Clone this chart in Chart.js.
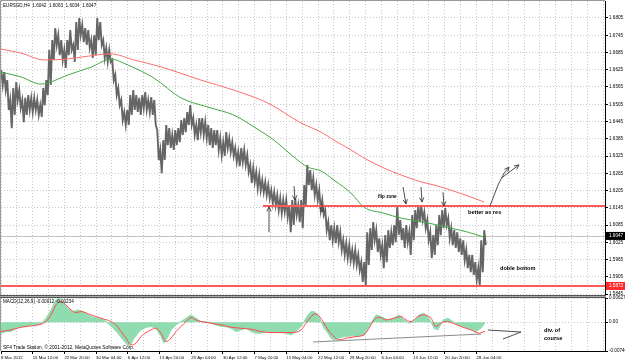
<!DOCTYPE html>
<html><head><meta charset="utf-8">
<script src="https://cdn.jsdelivr.net/npm/chart.js@4/dist/chart.umd.min.js"></script>
<style>
html,body{margin:0;padding:0;background:#fff;width:625px;height:361px;overflow:hidden}
#main{position:absolute;left:0;top:0}
#macd{position:absolute;left:0;top:294px}
</style></head><body>
<canvas id="main" width="625" height="296"></canvas>
<canvas id="macd" width="625" height="67"></canvas>
<script>
// ---------- DATA ----------
const symbolTitle = 'EURSGD,H4  1.6042  1.6063  1.6034  1.6047';
const macdTitle = 'MACD(12,26,9) -0.00012 -0.00234';
const copyright = 'SF4 Trade Station, \u00A9 2001-2012, MetaQuotes Software Corp.';
const xLabels = ['8 Mar 2012','15 Mar 12:00','22 Mar 20:00','30 Mar 04:00','6 Apr 12:00','13 Apr 20:00','23 Apr 04:00','30 Apr 12:00','7 May 20:00','15 May 04:00','22 May 12:00','29 May 20:00','6 Jun 04:00','13 Jun 12:00','20 Jun 20:00','28 Jun 04:00'];
const priceTicks = ['1.5845','1.5905','1.5965','1.6025','1.6085','1.6145','1.6205','1.6265','1.6325','1.6385','1.6445','1.6505','1.6565','1.6625','1.6685','1.6745','1.6805'];
const macdTicks = ['0.006279','0.00','-0.00746'];

// price range of each sample (every 3 bars)
const priceHigh = [1.6624,1.6617,1.6589,1.6520,1.6561,1.6582,1.6554,1.6520,1.6527,1.6537,
1.6527,1.6527,1.6520,1.6502,1.6561,1.6589,1.6694,1.6728,1.6770,1.6746,
1.6728,1.6694,1.6728,1.6763,1.6711,1.6791,1.6805,1.6781,1.6770,1.6763,
1.6728,1.6746,1.6805,1.6791,1.6728,1.6701,1.6694,1.6659,1.6607,1.6561,
1.6520,1.6478,1.6485,1.6537,1.6554,1.6537,1.6527,1.6537,1.6547,1.6520,
1.6530,1.6520,1.6415,1.6346,1.6380,1.6433,1.6422,1.6398,1.6415,1.6422,
1.6450,1.6457,1.6478,1.6502,1.6457,1.6433,1.6457,1.6457,1.6443,1.6433,
1.6422,1.6415,1.6415,1.6387,1.6373,1.6408,1.6387,1.6373,1.6353,1.6339,
1.6353,1.6346,1.6328,1.6294,1.6283,1.6269,1.6259,1.6241,1.6234,1.6224,
1.6206,1.6199,1.6189,1.6178,1.6172,1.6172,1.6154,1.6172,1.6178,1.6154,
1.6172,1.6224,1.6294,1.6276,1.6248,1.6224,1.6206,1.6172,1.6137,1.6095,
1.6085,1.6074,1.6085,1.6060,1.6032,1.6022,1.6015,1.5998,1.5998,1.5981,
1.5956,1.5956,1.6060,1.6074,1.6095,1.6067,1.6039,1.6015,1.6050,1.6067,
1.6060,1.6085,1.6154,1.6102,1.6074,1.6085,1.6060,1.6120,1.6137,1.6154,
1.6154,1.6130,1.6102,1.6060,1.6050,1.6085,1.6120,1.6137,1.6144,1.6109,
1.6074,1.6067,1.6060,1.6039,1.6032,1.5998,1.5981,1.5981,1.5956,1.5935,
1.6032,1.6067];
const priceLow = [1.6572,1.6554,1.6485,1.6422,1.6468,1.6520,1.6492,1.6443,1.6468,1.6485,
1.6478,1.6485,1.6468,1.6461,1.6502,1.6537,1.6572,1.6659,1.6711,1.6676,
1.6659,1.6631,1.6676,1.6694,1.6652,1.6694,1.6746,1.6721,1.6711,1.6701,
1.6666,1.6676,1.6728,1.6711,1.6666,1.6652,1.6652,1.6589,1.6537,1.6502,
1.6450,1.6433,1.6433,1.6468,1.6485,1.6478,1.6468,1.6492,1.6485,1.6478,
1.6468,1.6433,1.6311,1.6265,1.6311,1.6363,1.6353,1.6346,1.6363,1.6373,
1.6398,1.6408,1.6433,1.6433,1.6398,1.6380,1.6408,1.6398,1.6387,1.6363,
1.6353,1.6363,1.6346,1.6328,1.6325,1.6353,1.6339,1.6325,1.6304,1.6290,
1.6304,1.6294,1.6269,1.6231,1.6234,1.6213,1.6206,1.6199,1.6189,1.6178,
1.6161,1.6154,1.6137,1.6126,1.6130,1.6113,1.6060,1.6085,1.6120,1.6095,
1.6074,1.6154,1.6224,1.6206,1.6189,1.6172,1.6137,1.6120,1.6067,1.6032,
1.6032,1.6022,1.6025,1.5998,1.5981,1.5970,1.5963,1.5953,1.5946,1.5928,
1.5887,1.5873,1.5946,1.5998,1.6032,1.5991,1.5981,1.5935,1.5956,1.6005,
1.6015,1.6025,1.6050,1.6032,1.6005,1.6025,1.5981,1.6032,1.6074,1.6095,
1.6102,1.6074,1.6032,1.5970,1.5981,1.6015,1.6050,1.6074,1.6085,1.6039,
1.6015,1.6005,1.5991,1.5981,1.5963,1.5935,1.5921,1.5911,1.5893,1.5873,
1.5921,1.6015];

const slowMaBar = [0,20,43,65,80,110,133,160,200,233,267,300,320,333,350,365,383,400,417,433,450,467,483];
const slowMaVal = [1.6697,1.6683,1.6659,1.6662,1.6669,1.6680,1.6659,1.6635,1.6589,1.6554,1.6509,1.6440,1.6408,1.6380,1.6346,1.6314,1.6283,1.6259,1.6238,1.6224,1.6206,1.6186,1.6165];
const fastMaBar = [0,20,40,47,67,90,110,127,153,180,207,233,253,273,293,307,320,333,350,363,383,400,427,450,467,483];
const fastMaVal = [1.6617,1.6600,1.6575,1.6579,1.6607,1.6634,1.6662,1.6641,1.6596,1.6527,1.6495,1.6467,1.6426,1.6380,1.6321,1.6286,1.6273,1.6241,1.6196,1.6147,1.6126,1.6109,1.6092,1.6074,1.6060,1.6043];

const macdBar = [0,5,10,15,20,25,30,35,40,42,45,50,55,58,62,67,72,77,82,87,92,97,102,107,112,117,122,127,130,133,137,140,145,150,155,160,163,167,170,175,180,185,190,195,200,205,210,215,220,225,230,235,240,245,250,255,260,265,270,275,280,285,290,295,300,303,307,310,313,317,320,323,327,330,333,338,343,350,357,363,367,372,375,380,387,393,398,403,408,413,418,423,428,433,437,442,447,452,457,463,470,475,480,484];
const macdMain = [-0.00285,-0.00242,-0.00242,-0.00156,-0.00112,-0.00112,-0.00069,-0.00060,-0.00052,0.00017,
0.00104,0.00320,0.00579,0.00622,0.00492,0.00363,0.00276,0.00320,0.00276,0.00190,
0.00130,0.00104,0.00078,-0.00026,-0.00156,-0.00285,-0.00458,-0.00613,-0.00562,-0.00415,
-0.00285,-0.00199,-0.00130,-0.00112,-0.00156,-0.00372,-0.00544,-0.00372,-0.00199,-0.00069,
0.00017,0.00104,0.00190,0.00104,0.00017,0.00017,-0.00026,-0.00069,-0.00112,-0.00112,
-0.00156,-0.00242,-0.00199,-0.00156,-0.00242,-0.00285,-0.00285,-0.00242,-0.00242,-0.00242,
-0.00268,-0.00285,-0.00328,-0.00242,-0.00112,0.00017,0.00190,0.00276,0.00276,0.00190,
0.00017,-0.00156,-0.00285,-0.00415,-0.00458,-0.00415,-0.00372,-0.00354,-0.00354,-0.00328,
-0.00156,0.00060,0.00190,0.00147,0.00060,0.00104,0.00190,0.00060,-0.00026,0.00017,
0.00190,0.00233,0.00104,-0.00156,-0.00199,0.00060,0.00104,0.00017,-0.00069,-0.00112,
-0.00181,-0.00242,-0.00156,-0.00012];
const signalBar = [0,10,20,30,40,45,50,55,60,65,70,75,80,90,100,110,115,120,125,130,135,140,150,155,160,165,170,175,180,185,190,195,200,210,220,230,240,250,260,270,280,290,300,305,310,314,317,322,327,333,338,345,355,363,368,373,378,385,393,400,405,410,417,423,430,435,440,445,452,460,470,478,484];
const signalVal = [-0.00242,-0.00199,-0.00130,-0.00095,-0.00052,0.00017,0.00190,0.00449,0.00536,0.00449,
0.00320,0.00251,0.00276,0.00190,0.00104,0.00017,-0.00069,-0.00242,-0.00415,-0.00588,
-0.00544,-0.00372,-0.00199,-0.00156,-0.00285,-0.00501,-0.00415,-0.00242,-0.00112,0.00017,
0.00121,0.00060,0.00017,-0.00026,-0.00069,-0.00130,-0.00156,-0.00181,-0.00242,-0.00268,
-0.00268,-0.00268,-0.00199,-0.00026,0.00147,0.00216,0.00190,0.00017,-0.00199,-0.00372,
-0.00458,-0.00415,-0.00372,-0.00328,-0.00156,0.00060,0.00130,0.00060,0.00104,0.00147,
0.00060,0.00017,0.00147,0.00190,0.00104,-0.00112,-0.00026,0.00017,-0.00026,-0.00112,
-0.00199,-0.00285,-0.00234];

const currentPrice = 1.6047;
const supportLevel = 1.5873;
const resistanceLevel = 1.6151;
const resistanceFromBar = 262;

// ---------- CHART ----------
const FONT = "'Liberation Sans', Arial, sans-serif";
const GRID = '#c6c6c6';
const BARS_PER_SAMPLE = 3;
const BARS_PER_GRID = 15.85;
const X_MAX = 604;
const PRICE_GRAY = '#666666';

function xTicksBuilder(s){
  const t=[]; for(let k=0;k*BARS_PER_GRID<=X_MAX;k++) t.push({value:k*BARS_PER_GRID});
  s.ticks=t;
}
function isLabelTick(i){ return i%2===0 && i/2 < xLabels.length; }

function drawArrow(ctx, pts, head){
  ctx.beginPath(); ctx.moveTo(pts[0][0],pts[0][1]);
  for(let i=1;i<pts.length;i++) ctx.lineTo(pts[i][0],pts[i][1]);
  ctx.stroke();
  if(head){
    const [x2,y2]=pts[pts.length-1],[x1,y1]=pts[pts.length-2];
    const a=Math.atan2(y2-y1,x2-x1);
    ctx.beginPath();
    for(const s of [-1,1]){ ctx.moveTo(x2,y2); ctx.lineTo(x2-head*Math.cos(a+s*0.45), y2-head*Math.sin(a+s*0.45)); }
    ctx.stroke();
  }
}

const mainNotes = {
  arrows: [
    [[268,1.6060],[268,1.6148]],
    [[293,1.6220],[294,1.6172]],
    [[321,1.6158],[321,1.6130]],
    [[402,1.6217],[405,1.6158]],
    [[420,1.6217],[421,1.6165]],
    [[442,1.6199],[443,1.6151]],
    [[489,1.6151],[497,1.6224],[503,1.6265],[508,1.6286]],
    [[501,1.6250],[518,1.6294]]
  ],
  texts: [
    {t:'flip zone', bar:377, price:1.6182, size:4.6},
    {t:'better as res', bar:467, price:1.6127, size:5.6},
    {t:'doble bottom', bar:499, price:1.5935, size:5.6}
  ]
};
const macdNotes = {
  trend: [[312,-0.00513],[480,-0.00306]],
  head: [[[487,-0.00202],[520,-0.00254]],[[502,-0.00435],[520,-0.00254]]],
  texts: [{t:'div. of', bar:543, v:-0.0022},{t:'course', bar:543, v:-0.0041}]
};

const mainDeco = {
  id:'mainDeco',
  beforeDatasetsDraw(chart){
    const {ctx, chartArea:a, scales:{y}} = chart;
    const yp = Math.round(y.getPixelForValue(currentPrice))+0.5;
    ctx.save(); ctx.strokeStyle='#c8c0c0'; ctx.lineWidth=1;
    ctx.beginPath(); ctx.moveTo(a.left,yp); ctx.lineTo(a.right,yp); ctx.stroke(); ctx.restore();
  },
  afterDatasetsDraw(chart){
    const {ctx, chartArea:a, scales:{x,y}} = chart;
    ctx.save();
    ctx.strokeStyle='#ff5a5a'; ctx.lineWidth=2;
    let yp=y.getPixelForValue(resistanceLevel);
    ctx.beginPath(); ctx.moveTo(x.getPixelForValue(resistanceFromBar),yp); ctx.lineTo(a.right,yp); ctx.stroke();
    yp=y.getPixelForValue(supportLevel);
    ctx.beginPath(); ctx.moveTo(a.left,yp); ctx.lineTo(a.right,yp); ctx.stroke();
    ctx.strokeStyle='#3a3a3a'; ctx.lineWidth=0.9;
    for(const ar of mainNotes.arrows){
      drawArrow(ctx, ar.map(p=>[x.getPixelForValue(p[0]), y.getPixelForValue(p[1])]), 5);
    }
    ctx.fillStyle='#000'; ctx.textBaseline='middle'; ctx.textAlign='left';
    for(const n of mainNotes.texts){
      ctx.font='bold '+n.size+'px '+FONT;
      ctx.fillText(n.t, x.getPixelForValue(n.bar), y.getPixelForValue(n.price));
    }
    ctx.font='4.6px '+FONT;
    ctx.fillText(symbolTitle, a.left+2, a.top+4.5);
    ctx.strokeStyle='#9a9a9a'; ctx.lineWidth=1;
    ctx.beginPath(); ctx.moveTo(0.5,a.bottom); ctx.lineTo(0.5,0.5); ctx.lineTo(a.right,0.5); ctx.stroke();
    ctx.restore();
  },
  afterDraw(chart){
    const {ctx, chartArea:a, scales:{y}} = chart;
    ctx.save();
    ctx.font='4.6px '+FONT; ctx.textBaseline='middle'; ctx.textAlign='left';
    const boxes=[[currentPrice,'#000'],[supportLevel,'#ff2a2a']];
    for(const [v,c] of boxes){
      const yp=y.getPixelForValue(v);
      ctx.fillStyle=c; ctx.fillRect(a.right+1, yp-4, 19, 8);
      ctx.fillStyle='#fff'; ctx.fillText(v.toFixed(4), a.right+4, yp);
    }
    ctx.restore();
  }
};

const macdDeco = {
  id:'macdDeco',
  afterDatasetsDraw(chart){
    const {ctx, chartArea:a, scales:{x,y}} = chart;
    ctx.save();
    ctx.strokeStyle='#8a8a8a'; ctx.lineWidth=1;
    drawArrow(ctx, macdNotes.trend.map(p=>[x.getPixelForValue(p[0]), y.getPixelForValue(p[1])]), 0);
    ctx.strokeStyle='#3a3a3a'; ctx.lineWidth=0.9;
    for(const h of macdNotes.head) drawArrow(ctx, h.map(p=>[x.getPixelForValue(p[0]), y.getPixelForValue(p[1])]), 0);
    ctx.fillStyle='#000'; ctx.textBaseline='middle'; ctx.textAlign='left';
    ctx.font='bold 5.6px '+FONT;
    for(const n of macdNotes.texts) ctx.fillText(n.t, x.getPixelForValue(n.bar), y.getPixelForValue(n.v));
    ctx.font='4.6px '+FONT;
    ctx.fillText(macdTitle, a.left+2, a.top+4);
    ctx.font='4.8px '+FONT;
    ctx.fillText(copyright, a.left+2, a.bottom-3);
    ctx.strokeStyle='#555'; ctx.lineWidth=1;
    ctx.beginPath(); ctx.moveTo(0,1.5); ctx.lineTo(a.right+1,1.5); ctx.moveTo(0,3.5); ctx.lineTo(a.right+1,3.5); ctx.stroke();
    ctx.strokeStyle='#aaa';
    ctx.beginPath(); ctx.moveTo(0,2.5); ctx.lineTo(a.right+1,2.5); ctx.stroke();
    ctx.strokeStyle='#9a9a9a';
    ctx.beginPath(); ctx.moveTo(0.5,a.top); ctx.lineTo(0.5,a.bottom); ctx.stroke();
    ctx.restore();
  }
};

Chart.defaults.font.family = FONT;
Chart.defaults.color = '#000';

const xCommon = {
  type:'linear', min:0, max:X_MAX, offset:false, bounds:'data',
  afterBuildTicks: xTicksBuilder
};
const sampleX = i => 1 + BARS_PER_SAMPLE*i;
// each sample drawn as a high->low stroke, like compressed OHLC bars
const pricePath = [];
priceHigh.forEach((h,i)=>{ pricePath.push({x:sampleX(i)-0.75, y:h}); pricePath.push({x:sampleX(i)+0.75, y:priceLow[i]}); });

new Chart(document.getElementById('main'), {
  type:'line',
  data:{datasets:[
    {data: pricePath, borderColor:PRICE_GRAY, borderWidth:1.9,
      pointRadius:0, tension:0, fill:false, order:3},
    {data: slowMaBar.map((b,i)=>({x:b,y:slowMaVal[i]})), borderColor:'#ff6e6e', borderWidth:1,
      pointRadius:0, cubicInterpolationMode:'monotone', fill:false, order:1},
    {data: fastMaBar.map((b,i)=>({x:b,y:fastMaVal[i]})), borderColor:'#43aa43', borderWidth:1,
      pointRadius:0, cubicInterpolationMode:'monotone', fill:false, order:2}
  ]},
  options:{
    responsive:false, animation:false, devicePixelRatio:1,
    layout:{padding:{top:1,left:1,right:0,bottom:0}},
    plugins:{legend:{display:false}, tooltip:{enabled:false}},
    scales:{
      x:Object.assign({}, xCommon, {
        ticks:{display:false},
        grid:{color:GRID, drawTicks:false, lineWidth:1},
        border:{display:false, dash:[1,2]},
        afterFit(s){ s.height=0; s.paddingLeft=0; s.paddingRight=0; }
      }),
      y:{type:'linear', position:'right', min:1.58381, max:1.68641, bounds:'data',
        afterBuildTicks(s){ s.ticks = priceTicks.map(v=>({value:parseFloat(v)})); },
        ticks:{autoSkip:false, padding:1, font:{size:4.6}, color:'#000',
          callback:(v)=>{ const i=priceTicks.findIndex(t=>Math.abs(parseFloat(t)-v)<1e-6); return i>=0?priceTicks[i]:''; }},
        grid:{color:GRID, tickLength:3, tickColor:'#000', lineWidth:1},
        border:{display:true, color:'#000', width:1, dash:[1,2]},
        afterFit(s){ s.width=20; s.paddingTop=0; s.paddingBottom=0; }
      }
    }
  },
  plugins:[mainDeco]
});

new Chart(document.getElementById('macd'), {
  type:'line',
  data:{datasets:[
    {data: macdBar.map((b,i)=>({x:b,y:macdMain[i]})), borderColor:'#8fdcb0', backgroundColor:'#8fdcb0',
      borderWidth:1, pointRadius:0, fill:'origin', tension:0, order:2},
    {data: signalBar.map((b,i)=>({x:b,y:signalVal[i]})), borderColor:'#ff4b4b', borderWidth:1,
      pointRadius:0, cubicInterpolationMode:'monotone', fill:false, order:1}
  ]},
  options:{
    responsive:false, animation:false, devicePixelRatio:1,
    layout:{padding:{top:4,left:1,right:0,bottom:0}},
    plugins:{legend:{display:false}, tooltip:{enabled:false}},
    scales:{
      x:Object.assign({}, xCommon, {
        ticks:{autoSkip:false, maxRotation:0, minRotation:0, align:'start', padding:1, font:{size:4.3}, color:'#000',
          callback:(v,i)=> isLabelTick(i) ? xLabels[i/2] : ''},
        grid:{color:GRID, tickLength:3, lineWidth:1,
          tickColor:(c)=> isLabelTick(c.index) ? '#000' : 'rgba(0,0,0,0)'},
        border:{display:true, color:'#000', width:1, dash:[1,2]},
        afterFit(s){ s.height=10; s.paddingLeft=0; s.paddingRight=0; }
      }),
      y:{type:'linear', position:'right', min:-0.00746, max:0.006279, bounds:'data',
        afterBuildTicks(s){ s.ticks = macdTicks.map(v=>({value:parseFloat(v)})); },
        ticks:{autoSkip:false, padding:1, font:{size:4.6}, color:'#000',
          callback:(v,i)=>{ const j=macdTicks.findIndex(t=>Math.abs(parseFloat(t)-v)<1e-9); return j>=0?macdTicks[j]:''; }},
        grid:{color:GRID, tickLength:3, tickColor:'#000', lineWidth:1},
        border:{display:true, color:'#000', width:1, dash:[1,2]},
        afterFit(s){ s.width=20; s.paddingTop=0; s.paddingBottom=0; }
      }
    }
  },
  plugins:[macdDeco]
});
</script>
</body></html>
